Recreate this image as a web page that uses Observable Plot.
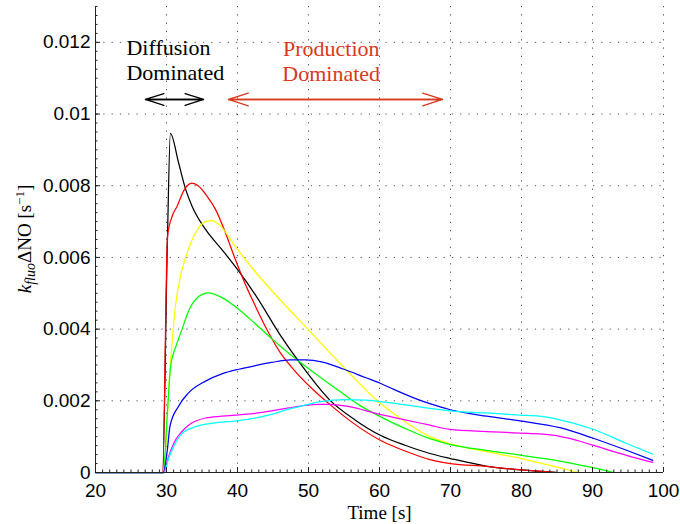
<!DOCTYPE html>
<html>
<head>
<meta charset="utf-8">
<script src="https://cdn.jsdelivr.net/npm/d3@7"></script>
<script src="https://cdn.jsdelivr.net/npm/@observablehq/plot@0.6"></script>
<style>
  html, body { margin: 0; padding: 0; background: #fff; }
</style>
</head>
<body>
<div id="chart"></div>
<script>
// ---- data (time [s], k_fluo·ΔNO [1/s]) ----
const black = [[20,0],[29.45,0],[30.1,0.0062],[30.55,0.00946],[31.7,0.00864],[32.7,0.0079],[33.6,0.00743],[35.5,0.00678],[37.8,0.00622],[40.2,0.00561],[42.7,0.0049],[46,0.00384],[48.8,0.00305],[53,0.00202],[56.6,0.00146],[60.1,0.00104],[63.6,0.00076],[67.1,0.00053],[70,0.00039],[75,0.00018],[80,0.00007],[84.9,0]];
const red = [[20,0],[29.45,0],[30.15,0.0066],[30.8,0.00715],[31.5,0.00743],[32.4,0.00785],[33.6,0.00807],[34.5,0.00799],[35.7,0.00771],[36.9,0.00734],[38.3,0.00669],[39.7,0.00594],[41.1,0.00525],[42.5,0.00465],[44.4,0.00389],[46,0.00335],[48,0.00285],[50.7,0.0023],[53,0.0019],[55.4,0.00151],[60.1,0.0009],[63.6,0.0006],[67.1,0.00036],[70,0.00025],[75,0.00017],[80,0.00007],[84.8,0]];
const yellow = [[20,0],[29.55,0],[30.5,0.0029],[31.3,0.0047],[32,0.0055],[32.7,0.006],[34.1,0.00669],[35.5,0.007],[36.4,0.00703],[37.6,0.00688],[39.7,0.0063],[42.5,0.0056],[46,0.00482],[49.8,0.00402],[54.9,0.00295],[60.1,0.00193],[63.6,0.00142],[67.1,0.001],[70,0.0008],[75,0.00058],[80,0.00039],[85,0.00015],[88,0]];
const green = [[20,0],[29.55,0],[30.1,0.0016],[30.6,0.003],[31.3,0.0035],[32.2,0.004],[33.1,0.0045],[34.5,0.0049],[35.9,0.00501],[37.8,0.00488],[40.2,0.00455],[42.5,0.00415],[44.9,0.00372],[46,0.00353],[48.4,0.00314],[50.7,0.0028],[54.5,0.00225],[57,0.0019],[60.1,0.00156],[63.6,0.00123],[67,0.00095],[70,0.00078],[75,0.00062],[80,0.00048],[85.4,0.00032],[89.9,0.00014],[93,0]];
const blue = [[20,0],[29.55,0],[30.1,0.0006],[30.5,0.0013],[31.7,0.00185],[33,0.0022],[35.5,0.00255],[37.8,0.00275],[40.2,0.00288],[42.5,0.00298],[44.8,0.00307],[47.5,0.00314],[49.5,0.00314],[52,0.00308],[55,0.00288],[58,0.00265],[60.1,0.00249],[62,0.00232],[65,0.00207],[67.1,0.00192],[70,0.00175],[75.1,0.00157],[79.8,0.00144],[85.4,0.00125],[89.9,0.00097],[94.8,0.00062],[98.5,0.00034]];
const magenta = [[20,0],[29.6,0],[30.3,0.00045],[31.25,0.0009],[32.2,0.00115],[33.1,0.00132],[35.5,0.00152],[37.8,0.00157],[40.2,0.00161],[42.5,0.00165],[44.8,0.00172],[47.2,0.0018],[49.5,0.00187],[51.5,0.0019],[53,0.0019],[55.4,0.00185],[60.1,0.00162],[63.6,0.00147],[67.1,0.00132],[69.9,0.0012],[75.1,0.00114],[79.8,0.0011],[83,0.00107],[85.4,0.00101],[86.8,0.00095],[89.9,0.00077],[94.8,0.00048],[98.5,0.00028]];
const cyan = [[20,0],[29.7,0],[30.3,0.0004],[31,0.00072],[32.2,0.00109],[34.1,0.00128],[36.4,0.00137],[40.2,0.00145],[42.5,0.00152],[44.8,0.00162],[47.2,0.00177],[49.5,0.00188],[51.5,0.00197],[55.4,0.00203],[58,0.00202],[60.1,0.00198],[65.7,0.00183],[67.1,0.00179],[69.9,0.00172],[75.1,0.00166],[79.8,0.0016],[82.5,0.00157],[85.4,0.00147],[89.9,0.00122],[94.8,0.00081],[98.5,0.00051]];

const seriesData   = [black, red, yellow, green, blue, magenta, cyan];
const seriesColors = ["#000000", "#ff0000", "#ffff00", "#00ff00", "#0000ff", "#ff00ff", "#00ffff"];

const xTicks = [20, 30, 40, 50, 60, 70, 80, 90, 100];
const yTicks = [0, 0.002, 0.004, 0.006, 0.008, 0.01, 0.012];
const yTickLabels = ["0", "0.002", "0.004", "0.006", "0.008", "0.01", "0.012"];
const xMinor = d3.range(20, 100.5, 1);
const yMinor = d3.range(0, 0.01301, 0.00025);

const diffusionText = "Diffusion\nDominated";
const productionText = "Production\nDominated";
const annotRed = "#d8381c";

const serif = "Liberation Serif";
const grid = {stroke: "#000", strokeOpacity: 0.7, strokeDasharray: "1.2,7.1", strokeWidth: 1};

const plot = Plot.plot({
  width: 680,
  height: 524,
  marginLeft: 95,
  marginRight: 17,
  marginTop: 6,
  marginBottom: 52,
  x: {domain: [20, 100]},
  y: {domain: [0, 0.013]},
  style: {fontFamily: "Liberation Sans, Arial, sans-serif", fontSize: "19px", color: "#000", background: "#fff"},
  marks: [
    Plot.gridX(xTicks.slice(1), grid),
    Plot.gridY(yTicks.slice(1), grid),
    ...seriesData.map((s, i) => Plot.line(s, {x: d => d[0], y: d => d[1], stroke: seriesColors[i], strokeWidth: 1.25, curve: "monotone-x"})),
    Plot.ruleX([20], {stroke: "#222"}),
    Plot.ruleY([0], {stroke: "#222"}),
    Plot.axisX(xTicks, {tickSize: 0, tickPadding: 11, tickFormat: d => String(d), label: null}),
    Plot.axisX(xTicks, {tickSize: -5, tickFormat: () => "", label: null, stroke: "#222"}),
    Plot.axisX(xMinor, {tickSize: -2.5, tickFormat: () => "", label: null, stroke: "#222"}),
    Plot.axisY(yTicks, {tickSize: 0, tickPadding: 5, tickFormat: d => yTickLabels[yTicks.indexOf(d)], label: null}),
    Plot.axisY(yTicks, {tickSize: -5, tickFormat: () => "", label: null, stroke: "#222"}),
    Plot.axisY(yMinor, {tickSize: -2.5, tickFormat: () => "", label: null, stroke: "#222"}),
    // annotations
    Plot.text([diffusionText], {x: 24.36, y: 0.01214, text: d => d, textAnchor: "start", lineAnchor: "top", lineHeight: 1.14, fontFamily: serif, fontSize: 22, fill: "#000"}),
    Plot.text([productionText], {x: 53.2, y: 0.01211, text: d => d, textAnchor: "middle", lineAnchor: "top", lineHeight: 1.14, fontFamily: serif, fontSize: 22, fill: annotRed}),
    Plot.arrow([[27.04, 35.21], [35.21, 27.04]], {x1: d => d[0], x2: d => d[1], y1: 0.010406, y2: 0.010406, stroke: "#000", strokeWidth: 1.3, headLength: 24, headAngle: 36}),
    Plot.arrow([[38.73, 68.87], [68.87, 38.73]], {x1: d => d[0], x2: d => d[1], y1: 0.010406, y2: 0.010406, stroke: annotRed, strokeWidth: 1.3, headLength: 24, headAngle: 36}),
    Plot.text(["Time [s]"], {frameAnchor: "bottom", lineAnchor: "middle", dy: 40, text: d => d, fontFamily: serif, fontSize: 19, fill: "#000"})
  ]
});

document.getElementById("chart").appendChild(plot);

// y-axis label with subscript / superscript
const svg = d3.select(plot);
const ylab = svg.append("text")
  .attr("transform", "translate(31,239) rotate(-90)")
  .attr("text-anchor", "middle")
  .attr("fill", "#000")
  .style("font-family", serif)
  .style("font-size", "19px");
ylab.append("tspan").style("font-style", "italic").text("k");
ylab.append("tspan").style("font-style", "italic").style("font-size", "14px").attr("dy", "4").text("fluo");
ylab.append("tspan").attr("dy", "-4").text("ΔNO [s");
ylab.append("tspan").style("font-size", "13px").attr("dy", "-7").text("−1");
ylab.append("tspan").attr("dy", "7").text("]");
</script>
</body>
</html>
